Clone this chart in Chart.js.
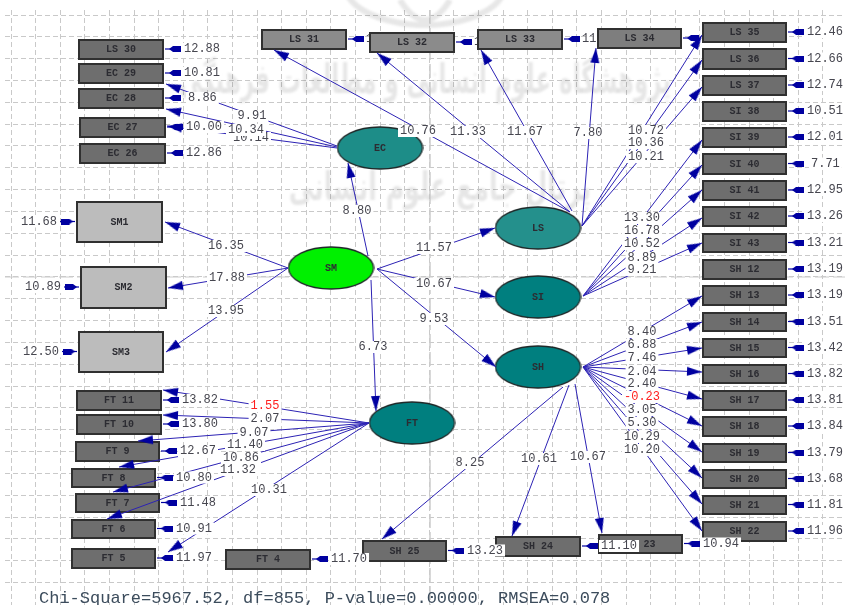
<!DOCTYPE html>
<html>
<head>
<meta charset="utf-8">
<script src="https://cdn.jsdelivr.net/npm/chart.js@4"></script>
<style>
  html, body { margin: 0; padding: 0; background: #ffffff; overflow: hidden; }
  canvas { display: block; }
</style>
</head>
<body>
<canvas id="diagram" width="845" height="605"></canvas>
<script>
// observed variables and their error t-values, same order in all three lists
const boxNames = [
  "LS 30", "EC 29", "EC 28", "EC 27", "EC 26",
  "LS 31", "LS 32", "LS 33", "LS 34", "LS 35", "LS 36", "LS 37",
  "SI 38", "SI 39", "SI 40", "SI 41", "SI 42", "SI 43",
  "SH 12", "SH 13", "SH 14", "SH 15", "SH 16", "SH 17", "SH 18", "SH 19", "SH 20", "SH 21", "SH 22",
  "SH 23", "SH 24", "SH 25",
  "FT 4", "FT 5", "FT 6", "FT 7", "FT 8", "FT 9", "FT 10", "FT 11",
  "SM1", "SM2", "SM3",
];
const errorValues = [
  "12.88", "10.81", "8.86", "10.00", "12.86",
  "1", "1", "11", "", "12.46", "12.66", "12.74",
  "10.51", "12.01", "7.71", "12.95", "13.26", "13.21",
  "13.19", "13.19", "13.51", "13.42", "13.82", "13.81", "13.84", "13.79", "13.68", "11.81", "11.96",
  "10.94", "11.10", "13.23",
  "11.70", "11.97", "10.91", "11.48", "10.80", "12.67", "13.80", "13.82",
  "11.68", "10.89", "12.50",
];
// left, top, width, height
const boxLayout = [
  [78, 39, 86, 21], [78, 63, 86, 21], [78, 88, 86, 21], [79, 117, 87, 21], [79, 143, 87, 21],
  [261, 29, 86, 21], [369, 32, 86, 21], [477, 29, 86, 21], [597, 28, 85, 21],
  [702, 22, 85, 21], [702, 48, 85, 22], [702, 75, 85, 21],
  [702, 101, 85, 21], [702, 127, 85, 21], [702, 153, 85, 22], [702, 180, 85, 21], [702, 206, 85, 21], [702, 233, 85, 20],
  [702, 259, 85, 21], [702, 285, 85, 21], [702, 312, 85, 20], [702, 338, 85, 20], [702, 364, 85, 20],
  [702, 390, 85, 21], [702, 416, 85, 21], [702, 443, 85, 20], [702, 469, 85, 20], [702, 495, 85, 20], [702, 521, 85, 21],
  [598, 534, 85, 20], [495, 536, 86, 21], [362, 540, 85, 22],
  [225, 549, 86, 21], [71, 548, 85, 21], [71, 519, 85, 20], [75, 493, 85, 20], [71, 468, 85, 20], [75, 441, 85, 21],
  [76, 414, 86, 21], [76, 390, 86, 21],
  [76, 201, 87, 42], [80, 266, 87, 43], [78, 331, 86, 42],
];

const latentNames = ["EC", "SM", "LS", "SI", "SH", "FT"];
const latentFills = ["#1d8d88", "#00f000", "#24908c", "#007f7f", "#007f7f", "#007f7f"];
// centre x, centre y
const latentCentres = [[380, 148], [331, 268], [538, 228], [538, 297], [538, 367], [412, 423]];

// structural and loading t-values
const pathValues = [
  10.14, 10.34, 9.91,
  10.76, 11.33, 11.67, 7.80, 10.72, 10.36, 10.21,
  13.30, 16.78, 10.52, 8.89, 9.21,
  8.40, 6.88, 7.46, 2.04, 2.40, -0.23, 3.05, 5.30, 10.29, 10.20,
  10.67, 10.61, 8.25,
  16.35, 17.88, 13.95, 8.80, 6.73, 11.57, 10.67, 9.53,
  1.55, 2.07, 9.07, 11.40, 10.86, 11.32, 10.31,
];
// start x, start y, arrow tip x, arrow tip y, label x, label y
const pathLayout = [
  [337, 148, 167, 126, 251, 138], [337, 147, 166, 109, 246, 130], [337, 146, 166, 84, 252, 116],
  [570, 212, 274, 50, 418, 131], [570, 212, 377, 53, 468, 132], [572, 211, 481, 50, 525, 132],
  [582, 226, 596, 48, 588, 133], [582, 226, 702, 35, 646, 131], [582, 226, 702, 60, 646, 143], [582, 226, 702, 87, 646, 157],
  [583, 296, 702, 140, 642, 218], [583, 296, 702, 165, 642, 231], [583, 296, 702, 190, 642, 244],
  [583, 296, 702, 218, 642, 258], [583, 296, 702, 243, 642, 270],
  [583, 367, 702, 296, 642, 332], [583, 367, 702, 322, 642, 345], [583, 367, 702, 348, 642, 358],
  [583, 367, 702, 372, 642, 372], [583, 367, 702, 399, 642, 384], [583, 367, 702, 426, 642, 397],
  [583, 367, 702, 452, 642, 410], [583, 367, 702, 478, 642, 423], [583, 367, 702, 504, 642, 437], [583, 367, 702, 531, 642, 450],
  [575, 384, 602, 533, 588, 457], [569, 385, 512, 536, 539, 459], [563, 387, 382, 539, 470, 463],
  [288, 268, 165, 222, 226, 246], [288, 268, 168, 288, 227, 278], [288, 268, 166, 352, 226, 311],
  [368, 256, 348, 163, 357, 211], [371, 280, 376, 411, 373, 347],
  [377, 269, 495, 228, 434, 248], [377, 269, 495, 297, 434, 284], [377, 269, 496, 367, 434, 319],
  [369, 423, 163, 390, 265, 406], [369, 423, 163, 415, 265, 419], [369, 423, 138, 441, 254, 433],
  [369, 423, 119, 467, 245, 445], [369, 423, 113, 492, 241, 458], [369, 423, 107, 519, 238, 470], [369, 423, 168, 552, 269, 490],
];

const fitText = "Chi-Square=5967.52, df=855, P-value=0.00000, RMSEA=0.078";
const watermarkLines = ["پژوهشگاه علوم انسانی و مطالعات فرهنگی", "پرتال جامع علوم انسانی"];

// background dotted grid
const gridX = [];
for (let i = 0; i < 35; i++) gridX.push(11 + i * 24.6);
const gridY = [];
for (let i = 0; i < 27; i++) gridY.push(15 + i * 21.83);

const LINE_COLOR = "#2c22b4";
const HEAD_COLOR = "#0000a0";
const LABEL_FONT = '12px "Liberation Mono"';
const NAME_FONT = 'bold 10px "Liberation Mono"';

function makeShape(w, h, draw) {
  const c = document.createElement("canvas");
  c.width = w;
  c.height = h;
  draw(c.getContext("2d"));
  return c;
}

function boxShape(w, h, fill) {
  return makeShape(w, h, (g) => {
    g.fillStyle = fill;
    g.fillRect(0, 0, w, h);
    g.strokeStyle = "#303030";
    g.lineWidth = 2;
    g.strokeRect(1, 1, w - 2, h - 2);
  });
}

function ellipseShape(fill) {
  return makeShape(87, 44, (g) => {
    g.beginPath();
    g.ellipse(43.5, 22, 42.5, 21, 0, 0, Math.PI * 2);
    g.fillStyle = fill;
    g.fill();
    g.strokeStyle = "#202a2a";
    g.lineWidth = 1.3;
    g.stroke();
  });
}

function headShape(len, wid) {
  return makeShape(len, wid, (g) => {
    g.beginPath();
    g.moveTo(len, wid / 2);
    g.lineTo(0, 0);
    g.lineTo(0, wid);
    g.closePath();
    g.fillStyle = HEAD_COLOR;
    g.fill();
  });
}

function blockShape(len, wid) {
  return makeShape(len, wid, (g) => {
    g.beginPath();
    g.moveTo(len, wid / 2);
    g.lineTo(len - 4, 0);
    g.lineTo(0, 0);
    g.lineTo(0, wid);
    g.lineTo(len - 4, wid);
    g.closePath();
    g.fillStyle = HEAD_COLOR;
    g.fill();
  });
}

function boxFill(i) {
  const name = boxNames[i];
  if (name.startsWith("SM")) return "#bcbcbc";
  if (name === "LS 31" || name === "LS 32" || name === "LS 33") return "#8b8b8b";
  if (name === "LS 34") return "#7e7e7e";
  return "#6e6e6e";
}

// error arrow and label sit right of the box, except the SM boxes
function errorGeometry(i) {
  const [x, y, w, h] = boxLayout[i];
  const midY = y + h / 2 - 0.5;
  const text = errorValues[i];
  const wide = text.length === 4 ? 4 : 0;
  if (boxNames[i].startsWith("SM")) {
    return { x0: x - 1, x1: x - 16, headX: x - 9, rot: 0, y: midY, labelX: x - 38, labelY: midY };
  }
  return { x0: x + w + 1, x1: x + w + 17, headX: x + w + 11, rot: 180, y: midY, labelX: x + w + 20 + wide, labelY: midY };
}

const datasets = [];

// long crosshair lines behind the diagram
datasets.push({
  data: [{ x: 5, y: 277 }, { x: 845, y: 277 }],
  showLine: true, pointRadius: 0, borderColor: "#cccccc", borderWidth: 1, borderDash: [14, 4], order: 9,
});
datasets.push({
  data: [{ x: 430, y: 10 }, { x: 430, y: 605 }],
  showLine: true, pointRadius: 0, borderColor: "#cccccc", borderWidth: 1.5, borderDash: [14, 4], order: 9,
});

// boxes
datasets.push({
  data: boxLayout.map((b) => ({ x: b[0] + b[2] / 2, y: b[1] + b[3] / 2 })),
  pointStyle: boxLayout.map((b, i) => boxShape(b[2], b[3], boxFill(i))),
  pointRadius: 5, showLine: false, order: 6,
});

// ellipses
datasets.push({
  data: latentCentres.map((c) => ({ x: c[0], y: c[1] })),
  pointStyle: latentFills.map(ellipseShape),
  pointRadius: 5, showLine: false, order: 5,
});

// paths, one dataset each
pathLayout.forEach((p) => {
  datasets.push({
    data: [{ x: p[0], y: p[1] }, { x: p[2], y: p[3] }],
    showLine: true, pointRadius: 0, borderColor: LINE_COLOR, borderWidth: 1, order: 4,
  });
});

// error arrow shafts
boxNames.forEach((n, i) => {
  const e = errorGeometry(i);
  datasets.push({
    data: [{ x: e.x0, y: e.y }, { x: e.x1, y: e.y }],
    showLine: true, pointRadius: 0, borderColor: HEAD_COLOR, borderWidth: 1.2, order: 4,
  });
});

// arrow heads
const pathHead = headShape(15, 9);
datasets.push({
  data: pathLayout.map((p) => {
    const a = Math.atan2(p[3] - p[1], p[2] - p[0]);
    return { x: p[2] - Math.cos(a) * 7.5, y: p[3] - Math.sin(a) * 7.5 };
  }),
  pointStyle: pathHead,
  pointRotation: pathLayout.map((p) => (Math.atan2(p[3] - p[1], p[2] - p[0]) * 180) / Math.PI),
  pointRadius: 5, showLine: false, order: 3,
});
const errorHead = blockShape(12, 6);
datasets.push({
  data: boxNames.map((n, i) => {
    const e = errorGeometry(i);
    return { x: e.headX, y: e.y };
  }),
  pointStyle: errorHead,
  pointRotation: boxNames.map((n, i) => errorGeometry(i).rot),
  pointRadius: 5, showLine: false, order: 3,
});

function putLabel(chart, ctx, text, x, y, opts) {
  const sx = chart.scales.x.getPixelForValue(x);
  const sy = chart.scales.y.getPixelForValue(y);
  ctx.font = LABEL_FONT;
  ctx.textBaseline = "middle";
  ctx.textAlign = opts.align;
  const w = ctx.measureText(text).width;
  if (opts.back) {
    ctx.fillStyle = "#ffffff";
    const left = opts.align === "center" ? sx - w / 2 : sx;
    ctx.fillRect(left - 2, sy - 6, w + 4, 12);
  }
  ctx.fillStyle = opts.color || "#46464f";
  ctx.fillText(text, sx, sy);
}

// the grey stamp behind the diagram, plus labels cut off by the next box
const underPlugin = {
  id: "under",
  beforeDatasetsDraw(chart) {
    const ctx = chart.ctx;
    ctx.save();
    ctx.filter = "blur(1.2px)";
    ctx.fillStyle = "rgba(60,60,60,0.13)";
    ctx.textAlign = "center";
    ctx.textBaseline = "middle";
    ctx.save();
    ctx.translate(425, 82);
    ctx.scale(0.62, 1.1);
    ctx.font = 'bold 37px "DejaVu Sans"';
    ctx.fillText(watermarkLines[0], 0, 0);
    ctx.restore();
    ctx.save();
    ctx.translate(440, 190);
    ctx.scale(0.7, 1.1);
    ctx.font = 'bold 36px "DejaVu Sans"';
    ctx.fillText(watermarkLines[1], 0, 0);
    ctx.restore();
    ctx.strokeStyle = "rgba(60,60,60,0.12)";
    ctx.lineWidth = 6;
    ctx.beginPath();
    ctx.ellipse(425, -15, 80, 40, 0, 0.2, Math.PI - 0.2);
    ctx.moveTo(400, 0);
    ctx.quadraticCurveTo(425, 40, 450, 0);
    ctx.stroke();
    ctx.restore();
    ctx.save();
    boxNames.forEach((n, i) => {
      if (n >= "LS 31" && n <= "LS 33") {
        const e = errorGeometry(i);
        putLabel(chart, ctx, errorValues[i], e.labelX - 1, e.labelY, { align: "left", back: false });
      }
    });
    ctx.restore();
  },
};

// names, t-values and the fit line on top of everything
const labelPlugin = {
  id: "labels",
  afterDatasetsDraw(chart) {
    const ctx = chart.ctx;
    const sx = chart.scales.x;
    const sy = chart.scales.y;
    ctx.save();
    ctx.textBaseline = "middle";
    ctx.textAlign = "center";
    ctx.font = NAME_FONT;
    ctx.fillStyle = "#2c2c32";
    boxLayout.forEach((b, i) => {
      ctx.fillText(boxNames[i], sx.getPixelForValue(b[0] + b[2] / 2), sy.getPixelForValue(b[1] + b[3] / 2));
    });
    latentCentres.forEach((c, i) => {
      ctx.fillText(latentNames[i], sx.getPixelForValue(c[0]), sy.getPixelForValue(c[1]));
    });
    pathLayout.forEach((p, i) => {
      const v = pathValues[i];
      const color = Math.abs(v) < 1.96 ? "#ff2020" : undefined;
      putLabel(chart, ctx, v.toFixed(2), p[4], p[5], { align: "center", back: true, color: color });
    });
    boxNames.forEach((n, i) => {
      if (n >= "LS 31" && n <= "LS 34") return;
      const e = errorGeometry(i);
      const align = n.startsWith("SM") ? "center" : "left";
      const lx = n.startsWith("SM") ? e.labelX + 1 : e.labelX;
      putLabel(chart, ctx, errorValues[i], lx, e.labelY, { align: align, back: true });
    });
    ctx.font = '17px "Liberation Mono"';
    ctx.textAlign = "left";
    ctx.fillStyle = "#3c4c5c";
    ctx.fillText(fitText, 39, 598);
    ctx.restore();
  },
};

new Chart(document.getElementById("diagram"), {
  type: "scatter",
  data: { datasets: datasets },
  plugins: [underPlugin, labelPlugin],
  options: {
    responsive: false,
    animation: false,
    layout: { autoPadding: false, padding: { left: 5, top: 10, right: 0, bottom: 0 } },
    plugins: { legend: { display: false }, tooltip: { enabled: false } },
    scales: {
      x: {
        type: "linear", min: 5, max: 845,
        afterBuildTicks: (scale) => { scale.ticks = gridX.map((v) => ({ value: v })); },
        ticks: { display: false, autoSkip: false },
        grid: { color: "#c9c9c9", lineWidth: 1, drawTicks: false },
        border: { display: false, dash: [5, 3] },
      },
      y: {
        type: "linear", min: 10, max: 605, reverse: true,
        afterBuildTicks: (scale) => { scale.ticks = gridY.map((v) => ({ value: v })); },
        ticks: { display: false, autoSkip: false },
        grid: { color: "#c9c9c9", lineWidth: 1, drawTicks: false },
        border: { display: false, dash: [5, 3] },
      },
    },
  },
});
</script>
</body>
</html>
